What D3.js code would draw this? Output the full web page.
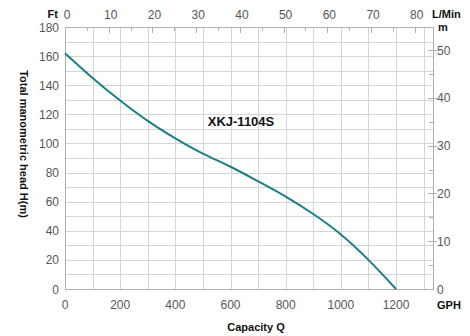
<!DOCTYPE html>
<html><head><meta charset="utf-8">
<script src="https://cdn.jsdelivr.net/npm/d3@7"></script>
<style>body{margin:0;background:#fff}svg{display:block}text{font-family:"Liberation Sans",Arial,sans-serif}</style>
</head><body><svg id="c" width="470" height="336"></svg>
<script>
const capacityGPH = [0,100,200,300,400,500,600,700,800,900,1000,1100,1200];
const headFt = [162,145,129.5,115.5,103.5,93,84,74,63.5,51.5,37.5,20,0];
const bottomTicks = [0,200,400,600,800,1000,1200];
const leftTicks = [0,20,40,60,80,100,120,140,160,180];
const topTicks = [0,10,20,30,40,50,60,70,80];
const rightTicks = [0,10,20,30,40,50];
const modelName = "XKJ-1104S";

const svg = d3.select("#c");
const L=65, R=433, T=27, B=289;
const x = d3.scaleLinear().domain([0,1334]).range([L,R]);
const y = d3.scaleLinear().domain([0,180]).range([B,T]);
const xl = d3.scaleLinear().domain([0,1334*3.78541/60]).range([L,R]);
const ym = d3.scaleLinear().domain([0,180/3.28084]).range([B,T]);

const grid = svg.append("g").attr("stroke","#d4d4d4").attr("stroke-width",1);
d3.range(100,1334,100).forEach(v=>grid.append("line").attr("x1",Math.round(x(v))+0.5).attr("x2",Math.round(x(v))+0.5).attr("y1",T).attr("y2",B));
d3.range(10,180,10).forEach(v=>grid.append("line").attr("y1",Math.round(y(v))+0.5).attr("y2",Math.round(y(v))+0.5).attr("x1",L).attr("x2",R));

svg.append("rect").attr("x",L+0.5).attr("y",T+0.5).attr("width",R-L).attr("height",B-T).attr("fill","none").attr("stroke","#b0b0b0");

const tk = svg.append("g").attr("stroke","#b0b0b0");
d3.range(5,85,5).forEach(v=>{const xx=Math.round(xl(v))+0.5; tk.append("line").attr("x1",xx).attr("x2",xx).attr("y1",T).attr("y2",T+(v%10?4:6));});
d3.range(5,55,5).forEach(v=>{const yy=Math.round(ym(v))+0.5; tk.append("line").attr("y1",yy).attr("y2",yy).attr("x1",v%10?R-4:R-5).attr("x2",v%10?R:R+4);});

const fs = "12px", col = "#555";
svg.append("g").selectAll("text").data(bottomTicks).join("text")
  .attr("x",d=>x(d)).attr("y",309).attr("text-anchor","middle").attr("font-size",fs).attr("fill",col).text(d=>d);
svg.append("g").selectAll("text").data(leftTicks).join("text")
  .attr("x",59).attr("y",d=>y(d)+4.5).attr("text-anchor","end").attr("font-size",fs).attr("fill",col).text(d=>d);
svg.append("g").selectAll("text").data(topTicks).join("text")
  .attr("x",d=>xl(d)+2).attr("y",19).attr("text-anchor","middle").attr("font-size",fs).attr("fill",col).text(d=>d);
svg.append("g").selectAll("text").data(rightTicks).join("text")
  .attr("x",437).attr("y",d=>ym(d)+4.5).attr("text-anchor","start").attr("font-size",fs).attr("fill",col).text(d=>d);

const bold = (t,xx,yy,anchor,size)=>svg.append("text").attr("x",xx).attr("y",yy).attr("text-anchor",anchor||"start").attr("font-size",size||"11px").attr("font-weight","bold").attr("fill","#111").text(t);
bold("Ft",58,18,"end");
bold("L/Min",432,18,"start");
bold("m",443,31,"middle");
bold("GPH",437,309,"start");
bold("Capacity Q",256,331,"middle");
bold(modelName,241,126,"middle","13px");
svg.append("text").attr("transform","translate(20,144) rotate(90)").attr("text-anchor","middle").attr("font-size","11px").attr("font-weight","bold").attr("fill","#111").text("Total manometric head H(m)");

const line = d3.line().x((d,i)=>x(capacityGPH[i])).y(d=>y(d)).curve(d3.curveNatural);
svg.append("path").attr("d",line(headFt)).attr("fill","none").attr("stroke","#1b7f86").attr("stroke-width",2);
</script></body></html>
